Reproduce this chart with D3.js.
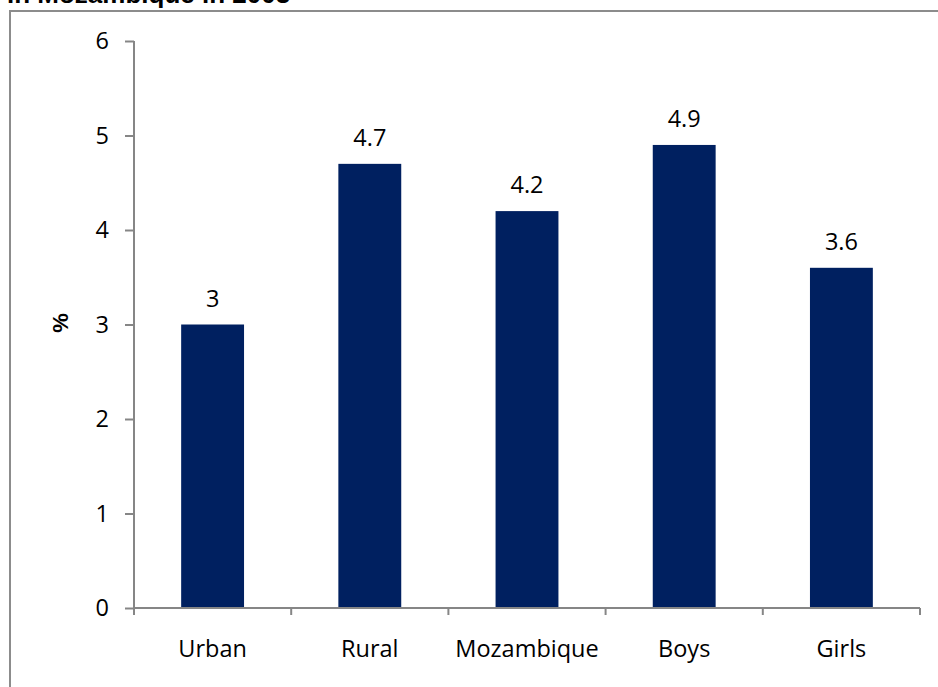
<!DOCTYPE html>
<html><head><meta charset="utf-8">
<script src="https://cdn.jsdelivr.net/npm/d3@7"></script>
<style>
html,body{margin:0;padding:0;background:#fff;}
svg{display:block;}
</style></head>
<body>
<script>
const categories = ["Urban", "Rural", "Mozambique", "Boys", "Girls"];
const values = [3, 4.7, 4.2, 4.9, 3.6];
const valueLabels = ["3", "4.7", "4.2", "4.9", "3.6"];
const yTicks = [0, 1, 2, 3, 4, 5, 6];
const titleText = "in Mozambique in 2003";
const yTitle = "%";

const W = 938, H = 687;
const font = "'Open Sans', 'Liberation Sans', Arial, sans-serif";
const fs = 23.5;
const svg = d3.select("body").append("svg").attr("width", W).attr("height", H);

// outer chart border
svg.append("rect").attr("x", 10).attr("y", 11).attr("width", W + 20).attr("height", H + 20)
  .attr("fill", "none").attr("stroke", "#8c8c8c").attr("stroke-width", 2);

// clipped title (cut by the top edge, as in the reference)
svg.append("text").attr("x", 7).attr("y", 3).text(titleText)
  .attr("font-family", "'Liberation Sans', Arial, sans-serif").attr("font-weight", "bold")
  .attr("font-size", 26).attr("fill", "#000");

const x = d3.scaleBand().domain(categories).range([134, 920]).paddingInner(0.6).paddingOuter(0.3);
const y = d3.scaleLinear().domain([0, 6]).range([608, 41]);

const axisColor = "#868686";

// bars
svg.selectAll("rect.bar").data(values).join("rect").attr("class", "bar")
  .attr("x", (d, i) => x(categories[i]))
  .attr("width", x.bandwidth())
  .attr("y", d => y(d))
  .attr("height", d => y(0) - y(d))
  .attr("fill", "#002060");

// value labels
svg.selectAll("text.vl").data(values).join("text").attr("class", "vl")
  .attr("x", (d, i) => x(categories[i]) + x.bandwidth() / 2)
  .attr("y", d => y(d) - 18)
  .attr("text-anchor", "middle")
  .attr("font-family", font).attr("font-size", fs).attr("fill", "#000")
  .text((d, i) => valueLabels[i]);

// y axis
const yAxis = svg.append("g").attr("transform", "translate(134,0)")
  .call(d3.axisLeft(y).tickValues(yTicks).tickSize(9).tickPadding(16).tickFormat(d3.format("d")));
yAxis.select(".domain").attr("stroke", axisColor).attr("stroke-width", 2).attr("d", `M0,${y(6)}V${y(0)}`);
yAxis.selectAll(".tick line").attr("stroke", axisColor).attr("stroke-width", 2);
yAxis.selectAll(".tick text").attr("font-family", font).attr("font-size", fs).attr("fill", "#000");

// x axis: tick marks at category boundaries
const bounds = d3.range(categories.length + 1).map(i => 134 + i * (786 / categories.length));
const xg = svg.append("g");
xg.append("line").attr("x1", 134).attr("x2", 920).attr("y1", y(0)).attr("y2", y(0))
  .attr("stroke", axisColor).attr("stroke-width", 2);
xg.selectAll("line.bt").data(bounds).join("line").attr("class", "bt")
  .attr("x1", d => d).attr("x2", d => d).attr("y1", y(0)).attr("y2", y(0) + 7)
  .attr("stroke", axisColor).attr("stroke-width", 2);
xg.selectAll("text.cl").data(categories).join("text").attr("class", "cl")
  .attr("x", d => x(d) + x.bandwidth() / 2).attr("y", 657)
  .attr("text-anchor", "middle").attr("font-family", font).attr("font-size", fs).attr("fill", "#000")
  .text(d => d);

// y title
svg.append("text").attr("transform", "translate(68,323) rotate(-90)")
  .attr("text-anchor", "middle").attr("font-family", "'Liberation Sans', Arial, sans-serif")
  .attr("font-weight", "bold").attr("font-size", 22).attr("fill", "#000").text(yTitle);
</script>
</body></html>
